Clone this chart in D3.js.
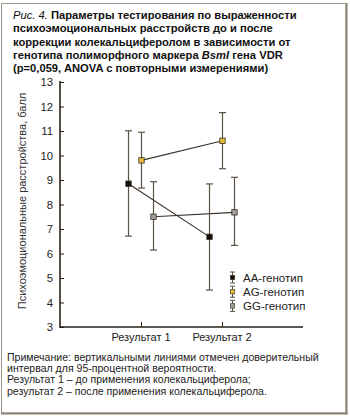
<!DOCTYPE html>
<html><head><meta charset="utf-8">
<script src="https://cdn.jsdelivr.net/npm/d3@7"></script>
<style>body{margin:0;background:#fff}svg{display:block;font-family:"Liberation Sans",Arial,sans-serif}</style>
</head><body><svg id="c" width="350" height="416"></svg>
<script>
const categories = ["Результат 1", "Результат 2"];
const genotypes = ["AA-генотип", "AG-генотип", "GG-генотип"];
const means = { "AA-генотип": [8.85, 6.68], "AG-генотип": [9.8, 10.6], "GG-генотип": [7.5, 7.68] };
const lower = { "AA-генотип": [6.71, 4.51], "AG-генотип": [8.67, 9.46], "GG-генотип": [6.14, 6.33] };
const upper = { "AA-генотип": [11.01, 8.84], "AG-генотип": [10.95, 11.75], "GG-генотип": [8.93, 9.11] };
const yTicks = [3,4,5,6,7,8,9,10,11,12,13];
const titleLines = [
  [{t:"Рис. 4. ", i:true}, {t:"Параметры тестирования по выраженности"}],
  [{t:"психоэмоциональных расстройств до и после"}],
  [{t:"коррекции колекальциферолом в зависимости от"}],
  [{t:"генотипа полиморфного маркера "}, {t:"BsmI", i:true}, {t:" гена VDR"}],
  [{t:"(p=0,059, ANOVA с повторными измерениями)"}]
];
const noteLines = [
  "Примечание: вертикальными линиями отмечен доверительный",
  "интервал для 95-процентной вероятности.",
  "Результат 1 – до применения колекальциферола;",
  "результат 2 – после применения колекальциферола."
];
const yLabel = "Психоэмоциональные расстройства, балл";

const colors = { "AA-генотип": "#140f0a", "AG-генотип": "#e9b93a", "GG-генотип": "#a19d98" };
const offsets = { "AA-генотип": -12.5, "AG-генотип": 0.5, "GG-генотип": 12.5 };
const axisColor = "#2a2118", barColor = "#5b5247";

const svg = d3.select("#c");
// frame
svg.append("rect").attr("x",1.5).attr("y",3.5).attr("width",344.5).attr("height",409.5)
  .attr("fill","none").attr("stroke","#9a9386").attr("stroke-width",1);
svg.append("line").attr("x1",346.5).attr("x2",346.5).attr("y1",3).attr("y2",414.5).attr("stroke","#8c8577").attr("stroke-width",2);
svg.append("line").attr("x1",1).attr("x2",347.5).attr("y1",413.5).attr("y2",413.5).attr("stroke","#8c8577").attr("stroke-width",2);

// title
const title = svg.append("text").attr("font-size",11.2).attr("font-weight","bold").attr("fill","#111");
titleLines.forEach((parts,li)=>{
  parts.forEach((p,pi)=>{
    const ts = title.append("tspan").text(p.t);
    if(pi===0) ts.attr("x",13).attr("y",19+li*13.3);
    if(p.i){ ts.attr("font-style","italic"); if(li===0) ts.attr("font-weight","normal"); }
  });
});

const x = d3.scalePoint().domain(categories).range([60,303]).padding(1);
const y = d3.scaleLinear().domain([3,13]).range([327,82]);

// y axis
const ya = svg.append("g").attr("transform","translate(60,0)")
  .call(d3.axisRight(y).tickValues(yTicks).tickSize(4).tickFormat(d3.format("d")));
ya.select(".domain").remove();
ya.selectAll(".tick line").attr("stroke",axisColor);
ya.selectAll(".tick text").attr("x",-7).attr("text-anchor","end").attr("font-size",11.3).attr("font-family","Liberation Sans, Arial").attr("fill","#222");
svg.append("line").attr("x1",60).attr("x2",60).attr("y1",81).attr("y2",327.5).attr("stroke",axisColor).attr("stroke-width",1.6);

// x axis
const xa = svg.append("g").attr("transform","translate(0,327)")
  .call(d3.axisTop(x).tickSize(5).tickFormat(""));
xa.select(".domain").remove();
xa.selectAll(".tick line").attr("stroke",axisColor);
svg.append("line").attr("x1",59.2).attr("x2",303).attr("y1",327).attr("y2",327).attr("stroke",axisColor).attr("stroke-width",1.6);
svg.append("g").selectAll("text").data(categories).join("text")
  .attr("x",d=>x(d)).attr("y",341).attr("text-anchor","middle").attr("font-size",11).attr("fill","#222").text(d=>d);

// y label
svg.append("text").attr("transform","translate(26,201) rotate(-90)").attr("text-anchor","middle")
  .attr("font-size",11).attr("fill","#333").text(yLabel);

// lines
const plot = svg.append("g");
genotypes.forEach(g=>{
  const pts = categories.map((c,i)=>[x(c)+offsets[g], y(means[g][i])]);
  plot.append("path").attr("d",d3.line()(pts)).attr("fill","none").attr("stroke","#3a3128").attr("stroke-width",1.1);
});
genotypes.forEach(g=>{
  categories.forEach((c,i)=>{
    const cx = x(c)+offsets[g];
    plot.append("line").attr("x1",cx).attr("x2",cx).attr("y1",y(upper[g][i])).attr("y2",y(lower[g][i])).attr("stroke",barColor).attr("stroke-width",1.2);
    [upper[g][i], lower[g][i]].forEach(v=>{
      plot.append("line").attr("x1",cx-3.5).attr("x2",cx+3.5).attr("y1",y(v)).attr("y2",y(v)).attr("stroke",barColor).attr("stroke-width",1.2);
    });
  });
});
genotypes.forEach(g=>{
  categories.forEach((c,i)=>{
    const cx = x(c)+offsets[g];
    plot.append("rect").attr("x",cx-2.7).attr("y",y(means[g][i])-2.7).attr("width",5.4).attr("height",5.4)
      .attr("fill",colors[g]).attr("stroke","#3a3128").attr("stroke-width",0.8);
  });
});

// legend
const leg = svg.append("g");
genotypes.forEach((g,i)=>{
  const cy = 277.5 + i*14.2, cx = 232.5;
  leg.append("line").attr("x1",cx).attr("x2",cx).attr("y1",cy-5.5).attr("y2",cy+5.5).attr("stroke",barColor).attr("stroke-width",1);
  [cy-5.5, cy+5.5].forEach(v=>leg.append("line").attr("x1",cx-2.5).attr("x2",cx+2.5).attr("y1",v).attr("y2",v).attr("stroke",barColor).attr("stroke-width",1));
  leg.append("rect").attr("x",cx-2.2).attr("y",cy-2.2).attr("width",4.4).attr("height",4.4).attr("fill",colors[g]).attr("stroke","#3a3128").attr("stroke-width",0.6);
  leg.append("text").attr("x",243).attr("y",cy+4).attr("font-size",11.5).attr("fill","#222").text(g);
});

// note
svg.append("g").selectAll("text").data(noteLines).join("text")
  .attr("x",7).attr("y",(d,i)=>361+i*11.2).attr("font-size",10.55).attr("fill","#222").text(d=>d);
</script></body></html>
